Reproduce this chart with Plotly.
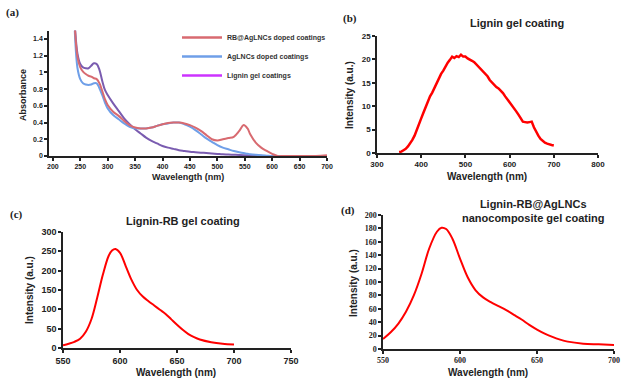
import plotly.graph_objects as go

W, H = 621, 379

# ---------- Panel (a): UV-Vis absorbance ----------
wl_a = [240, 245, 250, 255, 260, 265, 270, 275, 280, 285, 290, 295, 300, 310, 320, 330, 340, 350,
        360, 370, 380, 390, 400, 410, 420, 430, 440, 450, 460, 470, 480, 490, 500, 510, 520,
        530, 540, 548, 555, 560, 570, 580, 590, 600, 610, 620, 650, 680, 700]
abs_rb = [1.55, 1.18, 1.06, 1.01, 0.98, 0.96, 0.95, 0.93, 0.92, 0.87, 0.78, 0.68, 0.61, 0.53, 0.48, 0.42, 0.37, 0.34,
          0.33, 0.33, 0.34, 0.36, 0.38, 0.395, 0.40, 0.40, 0.39, 0.37, 0.34, 0.30, 0.25, 0.20, 0.185, 0.20, 0.215,
          0.23, 0.30, 0.37, 0.33, 0.26, 0.16, 0.10, 0.06, 0.025, 0.0, 0.0, 0.0, 0.0, 0.01]
abs_ag = [1.50, 1.05, 0.92, 0.87, 0.855, 0.85, 0.855, 0.87, 0.87, 0.81, 0.73, 0.64, 0.57, 0.49, 0.44, 0.39, 0.35, 0.33,
          0.33, 0.33, 0.34, 0.36, 0.38, 0.39, 0.40, 0.40, 0.38, 0.35, 0.31, 0.26, 0.21, 0.17, 0.13, 0.10, 0.08,
          0.06, 0.045, 0.035, 0.028, 0.022, 0.014, 0.008, 0.004, 0.0, 0.0, 0.0, 0.0, 0.0, 0.0]
abs_lig = [1.58, 1.22, 1.10, 1.06, 1.05, 1.05, 1.08, 1.11, 1.10, 1.03, 0.90, 0.79, 0.73, 0.63, 0.54, 0.45, 0.38, 0.32,
           0.27, 0.22, 0.18, 0.15, 0.12, 0.10, 0.085, 0.07, 0.06, 0.05, 0.045, 0.04, 0.035, 0.03, 0.025, 0.02, 0.018,
           0.015, 0.012, 0.01, 0.008, 0.006, 0.004, 0.002, 0.0, 0.0, 0.0, 0.0, 0.0, 0.0, 0.0]

# ---------- Panel (b): Lignin gel coating PL ----------
wl_b = [350, 355, 360, 365, 370, 375, 380, 385, 390, 395, 400, 405, 410, 415, 420, 425, 430, 435, 440,
        445, 450, 455, 460, 465, 470, 475, 480, 485, 490, 495, 500, 505, 510, 515, 520, 525, 530, 535,
        540, 545, 550, 555, 560, 565, 570, 575, 580, 585, 590, 595, 600, 605, 610, 615, 620, 625, 630,
        635, 640, 645, 650, 655, 660, 665, 670, 675, 680, 685, 690, 695, 700]
int_b = [0.2, 0.3, 0.6, 0.9, 1.4, 2.0, 2.8, 3.7, 4.8, 6.0, 7.4, 8.6, 9.9, 10.8, 12.1, 12.9, 14.0, 14.8, 15.9,
         16.9, 17.6, 18.6, 19.3, 19.9, 20.6, 20.3, 20.7, 20.5, 21.0, 20.6, 20.6, 20.2, 20.0, 19.7, 19.4, 18.9, 18.6, 18.0,
         17.6, 16.9, 16.4, 15.6, 15.1, 14.5, 14.1, 13.8, 13.4, 12.8, 12.1, 11.5, 10.9, 10.2, 9.6, 8.9, 8.2, 7.5, 6.7,
         6.6, 6.5, 6.6, 6.7, 5.5, 4.5, 3.7, 3.0, 2.5, 2.2, 2.0, 1.8, 1.7, 1.6]

# ---------- Panel (c): Lignin-RB gel coating PL ----------
wl_c = [550, 555, 560, 565, 570, 575, 580, 585, 590, 593, 596, 600, 605, 610, 615, 620, 625, 630, 635,
        640, 645, 650, 655, 660, 665, 670, 680, 690, 700]
int_c = [7, 11, 16, 24, 42, 75, 130, 190, 238, 252, 256, 246, 212, 177, 150, 133, 121, 110, 99,
         88, 74, 60, 47, 36, 28, 22, 15, 11, 9]

# ---------- Panel (d): Lignin-RB@AgLNCs nanocomposite gel coating PL ----------
wl_d = [550, 555, 560, 565, 570, 575, 580, 585, 588, 591, 595, 600, 605, 610, 615, 620, 625, 630, 635,
        640, 645, 650, 655, 660, 665, 670, 680, 690, 700]
int_d = [15, 25, 38, 56, 80, 112, 150, 175, 181, 179, 165, 135, 107, 88, 77, 70, 64, 58, 51,
         44, 36, 29, 23, 18, 14, 11, 8, 7, 6]

# legend / text labels
names_a = ["RB@AgLNCs doped coatings", "AgLNCs doped coatings", "Lignin gel coatings"]
titles = ["Lignin gel coating", "Lignin-RB gel coating",
          "Lignin-RB@AgLNCs<br>nanocomposite gel coating"]

SANS = "Liberation Sans"
SERIF = "Liberation Serif"
RED = "#ff0000"

fig = go.Figure()

# panel a traces
fig.add_trace(go.Scatter(x=wl_a, y=abs_lig, mode="lines", line=dict(color="#7a5cb0", width=2, shape="spline"),
                         xaxis="x", yaxis="y", showlegend=False))
fig.add_trace(go.Scatter(x=wl_a, y=abs_ag, mode="lines", line=dict(color="#6f9fe8", width=2, shape="spline"),
                         xaxis="x", yaxis="y", showlegend=False))
fig.add_trace(go.Scatter(x=wl_a, y=abs_rb, mode="lines", line=dict(color="#d86a70", width=2, shape="spline"),
                         xaxis="x", yaxis="y", showlegend=False))
# legend entries
leg_colors = ["#d86a70", "#6f9fe8", "#cc33ff"]
for nm, col in zip(names_a, leg_colors):
    fig.add_trace(go.Scatter(x=[None], y=[None], mode="lines", line=dict(color=col, width=2.5),
                             name=nm, xaxis="x", yaxis="y"))

fig.add_trace(go.Scatter(x=wl_b, y=int_b, mode="lines", line=dict(color=RED, width=2.5),
                         xaxis="x2", yaxis="y2", showlegend=False))
fig.add_trace(go.Scatter(x=wl_c, y=int_c, mode="lines", line=dict(color=RED, width=2, shape="spline"),
                         xaxis="x3", yaxis="y3", showlegend=False))
fig.add_trace(go.Scatter(x=wl_d, y=int_d, mode="lines", line=dict(color=RED, width=2, shape="spline"),
                         xaxis="x4", yaxis="y4", showlegend=False))


def px_x(p):
    return p / W


def px_y(p):
    return 1 - p / H


def ax(rng, dom, dtick, anchor, size, family=SANS, tickvals=None, ticktext=None):
    d = dict(range=rng, domain=dom, anchor=anchor, showgrid=False, zeroline=False, automargin=False,
             showline=True, linecolor="#222", linewidth=1.5, ticks="outside", ticklen=3,
             tickcolor="#222", tickwidth=1.5,
             tickfont=dict(family=family, size=size, color="#222", weight="bold"))
    if tickvals is not None:
        d.update(tickmode="array", tickvals=tickvals, ticktext=ticktext)
    else:
        d.update(dtick=dtick, tick0=rng[0])
    return d


layout = dict(
    width=W, height=H, margin=dict(l=0, r=0, t=0, b=0, autoexpand=False),
    paper_bgcolor="white", plot_bgcolor="white",
    xaxis=ax([193, 700], [px_x(49), px_x(327)], None, "y", 7,
             tickvals=[200, 250, 300, 350, 400, 450, 500, 550, 600, 650, 700],
             ticktext=["200", "250", "300", "350", "400", "450", "500", "550", "600", "650", "700"]),
    yaxis=ax([0, 1.5], [px_y(156), px_y(30.6)], None, "x", 7,
             tickvals=[0, 0.2, 0.4, 0.6, 0.8, 1.0, 1.2, 1.4],
             ticktext=["0", "0.2", "0.4", "0.6", "0.8", "1", "1.2", "1.4"]),
    xaxis2=ax([300, 800], [px_x(377), px_x(598)], 100, "y2", 8),
    yaxis2=ax([0, 25], [px_y(153), px_y(36)], 5, "x2", 8),
    xaxis3=ax([550, 750], [px_x(63), px_x(291)], 50, "y3", 9),
    yaxis3=ax([0, 300], [px_y(348), px_y(232)], 50, "x3", 9),
    xaxis4=ax([550, 700], [px_x(383), px_x(614)], 50, "y4", 8, family=SERIF),
    yaxis4=ax([0, 200], [px_y(349), px_y(215)], 20, "x4", 8, family=SERIF),
    legend=dict(x=px_x(177), y=px_y(23), xanchor="left", yanchor="top",
                bgcolor="rgba(0,0,0,0)", font=dict(family=SANS, size=7, color="#333", weight="bold"),
                tracegroupgap=0, itemwidth=40),
)
fig.update_layout(**layout)

ann = []


def text(x, y, t, size, family=SANS, angle=0, xanchor="center", yanchor="middle"):
    ann.append(dict(x=px_x(x), y=px_y(y), xref="paper", yref="paper", text=t, showarrow=False,
                    font=dict(family=family, size=size, color="#222", weight="bold"),
                    textangle=angle, xanchor=xanchor, yanchor=yanchor))


# panel labels
text(4, 12, "(a)", 11, SERIF, xanchor="left")
text(341, 18, "(b)", 11, SERIF, xanchor="left")
text(8, 214, "(c)", 11, SERIF, xanchor="left")
text(339, 210, "(d)", 11, SERIF, xanchor="left")
# titles
text(517, 23, titles[0], 11)
text(183, 221, titles[1], 11)
text(533, 211, titles[2], 11)
# axis titles
text(188, 177, "Wavelength (nm)", 9)
text(23, 95, "Absorbance", 9, angle=-90)
text(487, 176, "Wavelength (nm)", 10)
text(349, 95, "Intensity (a.u.)", 10, angle=-90)
text(176, 372, "Wavelength (nm)", 10)
text(29, 290, "Intensity (a.u.)", 10, angle=-90)
text(488, 372, "Wavelength (nm)", 10)
text(353, 283, "Intensity (a.u.)", 10, angle=-90)

fig.update_layout(annotations=ann)
fig.write_html("out.html", config={"displayModeBar": False},
               post_script="document.body.style.margin='0';document.body.style.overflow='hidden';")
